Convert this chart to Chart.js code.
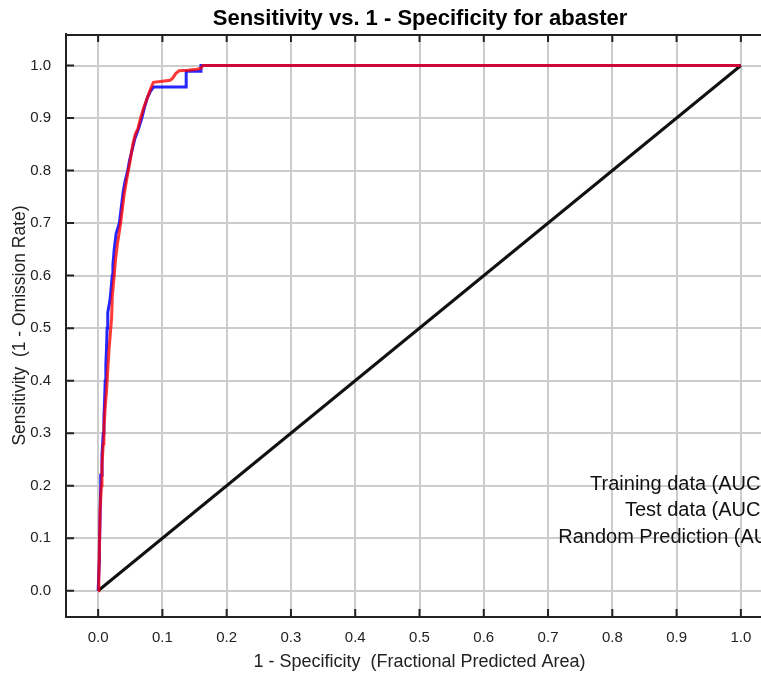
<!DOCTYPE html>
<html>
<head>
<meta charset="utf-8">
<script src="https://cdn.jsdelivr.net/npm/chart.js@4.4.1/dist/chart.umd.min.js"></script>
<style>
  html, body { margin: 0; padding: 0; background: #fff; overflow: hidden; }
  #wrap { width: 761px; height: 675px; overflow: hidden; }
  canvas { display: block; }
</style>
</head>
<body>
<div id="wrap"><canvas id="roc" width="840" height="675"></canvas></div>
<script>
const TITLE = "Sensitivity vs. 1 - Specificity for abaster";
const X_TITLE = "1 - Specificity  (Fractional Predicted Area)";
const Y_TITLE = "Sensitivity  (1 - Omission Rate)";
const TICKS = [0, 0.1, 0.2, 0.3, 0.4, 0.5, 0.6, 0.7, 0.8, 0.9, 1.0];

// training data (red)
const trainX = [0, 0.001, 0.002, 0.003, 0.005, 0.006, 0.008, 0.009, 0.011, 0.013,
  0.015, 0.017, 0.019, 0.021, 0.022, 0.025, 0.027, 0.030, 0.035, 0.038,
  0.040, 0.044, 0.047, 0.050, 0.054, 0.058, 0.062, 0.066, 0.071, 0.077,
  0.083, 0.086, 0.100, 0.112, 0.116, 0.121, 0.126, 0.140, 0.154, 0.160,
  0.163, 1];
const trainY = [0, 0.02, 0.08, 0.15, 0.20, 0.24, 0.28, 0.31, 0.35, 0.38,
  0.42, 0.46, 0.49, 0.52, 0.56, 0.60, 0.63, 0.66, 0.70, 0.73,
  0.75, 0.78, 0.80, 0.82, 0.85, 0.87, 0.88, 0.90, 0.92, 0.94,
  0.96, 0.968, 0.970, 0.972, 0.976, 0.985, 0.990, 0.991, 0.993, 0.995,
  1.0, 1.0];

// test data (blue)
const testX = [0, 0.002, 0.002, 0.004, 0.004, 0.005, 0.006, 0.008, 0.009, 0.010,
  0.011, 0.012, 0.013, 0.014, 0.015, 0.018, 0.019, 0.022, 0.023, 0.025,
  0.027, 0.028, 0.033, 0.035, 0.037, 0.039, 0.042, 0.046, 0.049, 0.053,
  0.057, 0.060, 0.063, 0.068, 0.072, 0.077, 0.081, 0.086, 0.110, 0.137,
  0.137, 0.160, 0.160, 1];
const testY = [0, 0.06, 0.08, 0.20, 0.22, 0.22, 0.26, 0.30, 0.33, 0.36,
  0.40, 0.43, 0.46, 0.50, 0.53, 0.55, 0.56, 0.60, 0.62, 0.65,
  0.67, 0.68, 0.70, 0.72, 0.74, 0.76, 0.78, 0.80, 0.82, 0.84,
  0.86, 0.87, 0.88, 0.90, 0.92, 0.94, 0.95, 0.959, 0.959, 0.959,
  0.989, 0.989, 1.0, 1.0];

// random prediction (black)
const randomX = [0, 1];
const randomY = [0, 1];

const LEGEND = ["Training data (AUC = 0.976)", "Test data (AUC = 0.968)", "Random Prediction (AUC = 0.5)"];

const FONT = "'Liberation Sans', Arial, sans-serif";
const zip = (xs, ys) => xs.map((x, i) => ({ x, y: ys[i] }));

// tick marks drawn inward from the frame + the top frame line
const innerTicks = {
  id: "innerTicks",
  beforeDatasetsDraw(chart) {
    const { ctx, chartArea: a, scales } = chart;
    ctx.save();
    ctx.strokeStyle = "#222";
    ctx.lineWidth = 2;
    ctx.beginPath();
    ctx.moveTo(a.left, a.top + 1);
    ctx.lineTo(a.right, a.top + 1);
    TICKS.forEach((v) => {
      const px = scales.x.getPixelForValue(v);
      ctx.moveTo(px, a.top);
      ctx.lineTo(px, a.top + 8);
      ctx.moveTo(px, a.bottom);
      ctx.lineTo(px, a.bottom - 8);
      const py = scales.y.getPixelForValue(v);
      ctx.moveTo(a.left, py);
      ctx.lineTo(a.left + 8, py);
    });
    ctx.stroke();
    ctx.restore();
  },
};

// text legend in the lower right, right aligned (clipped by the window like the original)
const textLegend = {
  id: "textLegend",
  afterDraw(chart) {
    const { ctx, chartArea: a } = chart;
    ctx.save();
    ctx.font = "20px " + FONT;
    ctx.fillStyle = "#111";
    ctx.textAlign = "right";
    ctx.textBaseline = "middle";
    LEGEND.forEach((t, i) => {
      ctx.fillText(t, chart.width, a.bottom - 133 + i * 26.5);
    });
    ctx.restore();
  },
};

new Chart(document.getElementById("roc"), {
  type: "scatter",
  data: {
    datasets: [
      { label: "Training data", data: zip(trainX, trainY), showLine: true, borderColor: "rgba(255,0,0,0.78)", borderWidth: 3, pointRadius: 0, order: 0 },
      { label: "Test data", data: zip(testX, testY), showLine: true, borderColor: "rgba(0,0,255,0.85)", borderWidth: 3, pointRadius: 0, order: 1 },
      { label: "Random Prediction", data: zip(randomX, randomY), showLine: true, borderColor: "#111", borderWidth: 3, pointRadius: 0, order: 2 },
    ],
  },
  options: {
    responsive: false,
    animation: false,
    layout: { padding: 0 },
    plugins: {
      legend: { display: false },
      tooltip: { enabled: false },
      title: {
        display: true,
        text: TITLE,
        color: "#000",
        font: { family: FONT, size: 22, weight: "bold" },
        padding: { top: 6, bottom: 1.6 },
      },
    },
    scales: {
      x: {
        type: "linear",
        min: -0.05,
        max: 1.05,
        afterBuildTicks: (s) => { s.ticks = TICKS.map((v) => ({ value: v })); },
        afterFit: (s) => { s.height = 58; },
        ticks: { color: "#222", font: { family: FONT, size: 15 }, padding: 12, callback: (v) => v.toFixed(1), maxRotation: 0 },
        grid: { color: "#cccccc", lineWidth: 2, drawTicks: false },
        border: { color: "#222", width: 2 },
        title: { display: true, text: X_TITLE, color: "#222", font: { family: FONT, size: 18 }, padding: { top: 0, bottom: 2 } },
      },
      y: {
        type: "linear",
        min: -0.05,
        max: 1.06,
        afterBuildTicks: (s) => { s.ticks = TICKS.map((v) => ({ value: v })); },
        afterFit: (s) => { s.width = 66; },
        ticks: { color: "#222", font: { family: FONT, size: 15 }, padding: 15, callback: (v) => v.toFixed(1) },
        grid: { color: "#cccccc", lineWidth: 2, drawTicks: false },
        border: { color: "#222", width: 2 },
        title: { display: true, text: Y_TITLE, color: "#222", font: { family: FONT, size: 17.5 }, padding: { top: 10, bottom: 4 } },
      },
      y2: {
        position: "right",
        afterFit: (s) => { s.width = 67; },
        ticks: { display: false },
        grid: { display: false },
        border: { display: false },
      },
    },
  },
  plugins: [innerTicks, textLegend],
});
</script>
</body>
</html>
